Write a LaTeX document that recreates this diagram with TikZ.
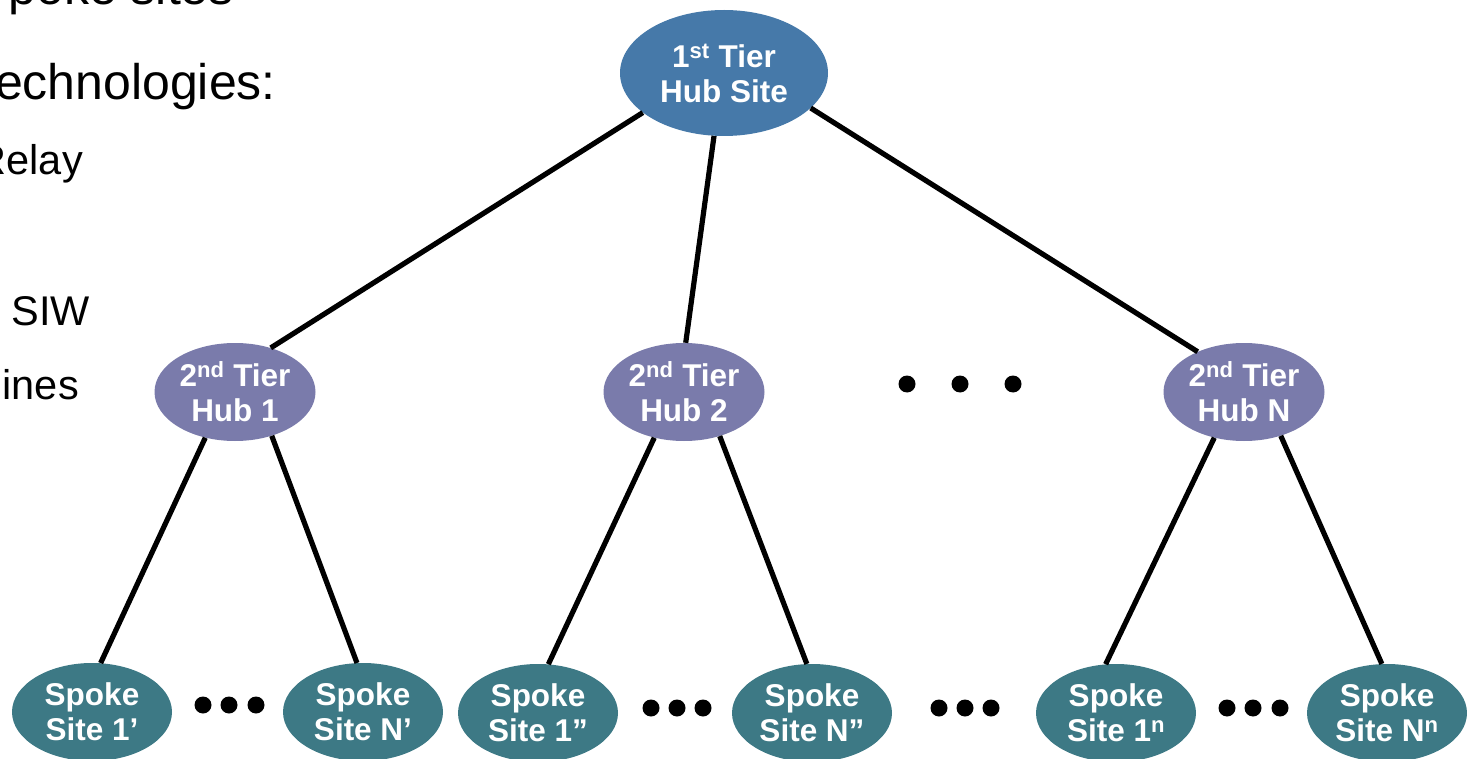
\documentclass[tikz,border=0pt]{standalone}
\usepackage{fontspec}
\setmainfont{Liberation Sans}
\usetikzlibrary{shapes.geometric}
\definecolor{tiertop}{HTML}{4679A9}
\definecolor{tierhub}{HTML}{7A7BAB}
\definecolor{tierspoke}{HTML}{3D7985}
\tikzset{
  site/.style={ellipse, inner sep=0pt, text=white, align=center,
    font=\bfseries\fontsize{31.5}{35}\selectfont},
  topsite/.style={site, fill=tiertop, minimum width=208pt, minimum height=126pt},
  hubsite/.style={site, fill=tierhub, minimum width=161pt, minimum height=98pt},
  spokesite/.style={site, fill=tierspoke, minimum width=160pt, minimum height=98pt},
  link/.style={line width=5.2pt},
  gapdot/.style={circle, fill=black, inner sep=0pt, minimum size=17pt},
  bullet1/.style={inner sep=0pt, anchor=base east, font=\fontsize{50}{60}\selectfont},
  bullet2/.style={inner sep=0pt, anchor=base east, font=\fontsize{41.5}{48}\selectfont}
}
\begin{document}
\begin{tikzpicture}[x=1pt, y=-1pt]
\useasboundingbox (0,0) rectangle (1467,759);
\clip (0,0) rectangle (1467,759);

% bullet text at the left edge
\node[bullet1] (t1) at (234,5) {poke sites};
\node[bullet1] (t2) at (276,100) {echnologies:};
\node[bullet2] (t3) at (83,175) {Relay};
\node[bullet2] (t4) at (90,325) {SIW};
\node[bullet2] (t5) at (79,399) {ines};

% hub tiers
\node[topsite] (top) at (724,73) {1\textsuperscript{st} Tier\\Hub Site};
\node[hubsite] (hubA) at (235,392) {2\textsuperscript{nd} Tier\\Hub 1};
\node[hubsite] (hubB) at (684,392) {2\textsuperscript{nd} Tier\\Hub 2};
\node[hubsite] (hubC) at (1244,392) {2\textsuperscript{nd} Tier\\Hub N};

% spoke sites
\node[spokesite] (sA1) at (92,712) {Spoke\\Site 1’};
\node[spokesite] (sAN) at (363,712) {Spoke\\Site N’};
\node[spokesite] (sB1) at (538,713) {Spoke\\Site 1”};
\node[spokesite] (sBN) at (812,713) {Spoke\\Site N”};
\node[spokesite] (sC1) at (1116,713) {Spoke\\Site 1\textsuperscript{n}};
\node[spokesite] (sCN) at (1387,713) {Spoke\\Site N\textsuperscript{n}};

% links
\draw[link] (top.206) -- (hubA.51);
\draw[link] (top.261) -- (hubB.88);
\draw[link] (top.338) -- (hubC.139);
\draw[link] (hubA.237) -- (sA1.80);
\draw[link] (hubA.310) -- (sAN.97);
\draw[link] (hubB.237) -- (sB1.78);
\draw[link] (hubB.309) -- (sBN.96);
\draw[link] (hubC.237) -- (sC1.102);
\draw[link] (hubC.310) -- (sCN.96);

% ellipsis dots between hubs
\node[gapdot] (d1) at (907,384) {};
\node[gapdot] (d2) at (960,384) {};
\node[gapdot] (d3) at (1013,384) {};

% ellipsis dots between spokes
\foreach \x/\y [count=\i] in {203/705,229/705,256/705,
                               651/708,677/708,703/708,
                               939/708,965/708,991/708,
                               1227/708,1253/708,1280/708}
  \node[gapdot] (s\i) at (\x,\y) {};
\end{tikzpicture}
\end{document}
